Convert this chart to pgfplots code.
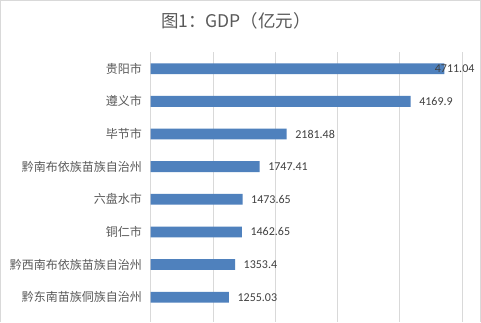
\documentclass[border=0pt]{standalone}
\usepackage{fontspec}
\setmainfont{Carlito}
\newfontfamily\cjk{Noto Sans CJK SC}
\usepackage{pgfplots}
\pgfplotsset{compat=1.18}
\definecolor{barblue}{HTML}{4F81BD}
\definecolor{gridgray}{HTML}{D9D9D9}
\definecolor{txtgray}{HTML}{595959}
\definecolor{lblgray}{HTML}{404040}
\begin{document}
\begin{tikzpicture}[x=1pt,y=1pt]
\useasboundingbox (0,0) rectangle (481,322);
\fill[white] (0,0) rectangle (481,322);
\draw[gridgray, line width=1pt] (0.5,0) -- (0.5,321.5) -- (480,321.5) -- (480,0);
\node[font=\cjk\fontsize{17.5}{20}\selectfont, text=txtgray] at (236,301) {图1：GDP（亿元）};
\begin{axis}[
  at={(150.7pt,0pt)}, anchor=south west,
  scale only axis, width=311.6pt, height=269.6pt,
  xmin=0, xmax=5000, ymin=0.5, ymax=8.76, y dir=reverse,
  axis line style={draw=none},
  xtick={0,1000,...,5000}, xticklabels={},
  xmajorgrids, grid style={gridgray, line width=1pt},
  major tick length=0pt,
  ytick={1,...,8},
  yticklabels={贵阳市,遵义市,毕节市,黔南布依族苗族自治州,六盘水市,铜仁市,黔西南布依族苗族自治州,黔东南苗族侗族自治州},
  yticklabel style={font=\cjk\fontsize{12}{14}\selectfont, text=txtgray, inner sep=0pt, anchor=east, xshift=-8.7pt},
  clip=false,
]
\addplot[xbar, bar width=10.8pt, bar shift=0pt, fill=barblue, draw=none] coordinates {
  (4711.04,1) (4169.9,2) (2181.48,3) (1747.41,4) (1473.65,5) (1462.65,6) (1353.4,7) (1255.03,8)
};
\addplot[draw=none, mark=none, point meta=explicit symbolic, nodes near coords,
  every node near coord/.style={anchor=west, inner sep=0pt, xshift=8.5pt, font=\fontsize{12}{14}\selectfont, text=lblgray}]
  coordinates {
  (4169.9,2) [4169.9] (2181.48,3) [2181.48] (1747.41,4) [1747.41] (1473.65,5) [1473.65] (1462.65,6) [1462.65] (1353.4,7) [1353.4] (1255.03,8) [1255.03]
};
\addplot[draw=none, mark=none, point meta=explicit symbolic, nodes near coords,
  every node near coord/.style={anchor=west, inner sep=0pt, xshift=-9.6pt, font=\fontsize{12}{14}\selectfont, text=lblgray}]
  coordinates {(4711.04,1) [4711.04]};
\end{axis}
\end{tikzpicture}
\end{document}
